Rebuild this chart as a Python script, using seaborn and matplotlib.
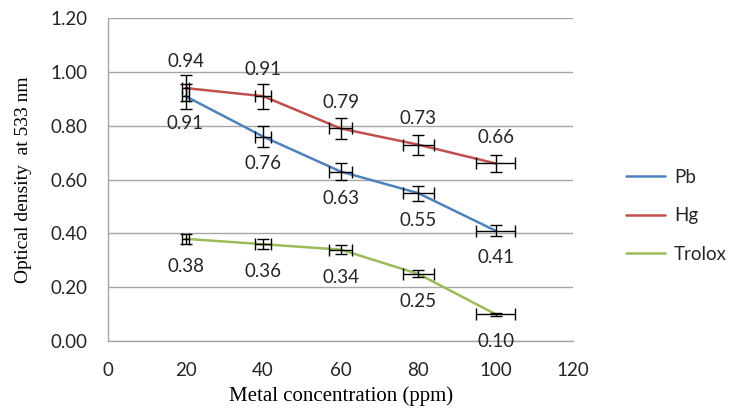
import matplotlib
matplotlib.use("Agg")
import matplotlib.pyplot as plt
import seaborn as sns
import pandas as pd
from matplotlib.lines import Line2D

conc = [20, 40, 60, 80, 100]
pb = [0.91, 0.76, 0.63, 0.55, 0.41]
hg = [0.94, 0.91, 0.79, 0.73, 0.66]
trolox = [0.38, 0.36, 0.34, 0.25, 0.10]
conc_err = [1, 2, 3, 4, 5]
pb_err = [0.046, 0.038, 0.032, 0.028, 0.021]
hg_err = [0.047, 0.046, 0.040, 0.037, 0.033]
trolox_err = [0.019, 0.018, 0.017, 0.013, 0.005]

series = ["Pb", "Hg", "Trolox"]
colors = {"Pb": "#4F81BD", "Hg": "#C0504D", "Trolox": "#9BBB59"}

df = pd.concat([
    pd.DataFrame({"conc": conc, "od": pb, "err": pb_err, "series": "Pb"}),
    pd.DataFrame({"conc": conc, "od": hg, "err": hg_err, "series": "Hg"}),
    pd.DataFrame({"conc": conc, "od": trolox, "err": trolox_err, "series": "Trolox"}),
])

sns.set_theme(style="white")
plt.rcParams['font.family'] = ['Lato', 'DejaVu Sans']

fig = plt.figure(figsize=(7.32, 4.11), dpi=100)
ax = fig.add_axes([0.1475, 0.170, 0.6355, 0.786])

sns.lineplot(data=df, x="conc", y="od", hue="series", palette=colors,
             hue_order=series, linewidth=1.8, ax=ax, legend=False, zorder=3)

for s, vals, errs in [("Pb", pb, pb_err), ("Hg", hg, hg_err), ("Trolox", trolox, trolox_err)]:
    ax.errorbar(conc, vals, xerr=conc_err, yerr=errs, fmt="none", ecolor="black",
                elinewidth=1.0, capsize=4, capthick=1.0, zorder=4)

label_kw = dict(textcoords="offset points", ha="center", va="center",
                fontsize=13.5, color="#262626", zorder=5)
for x, v in zip(conc, hg):
    ax.annotate(f"{v:.2f}", (x, v), xytext=(0, 19), **label_kw)
for x, v in zip(conc, pb):
    ax.annotate(f"{v:.2f}", (x, v), xytext=(0, -19.5), **label_kw)
for x, v in zip(conc, trolox):
    ax.annotate(f"{v:.2f}", (x, v), xytext=(0, -20), **label_kw)

ax.set_xlim(0, 120)
ax.set_ylim(0, 1.2)
ax.set_xticks([0, 20, 40, 60, 80, 100, 120])
ax.set_yticks([0, 0.2, 0.4, 0.6, 0.8, 1.0, 1.2])
ax.set_yticklabels([f"{t:.2f}" for t in [0, 0.2, 0.4, 0.6, 0.8, 1.0, 1.2]])
ax.tick_params(axis="both", length=0, labelsize=13.5, colors="#262626")
ax.tick_params(axis="x", pad=15)
ax.tick_params(axis="y", pad=15)
ax.yaxis.grid(True, color="#A6A6A6", linewidth=1.0)
ax.xaxis.grid(False)
for side in ["top", "right"]:
    ax.spines[side].set_visible(False)
for side in ["left", "bottom"]:
    ax.spines[side].set_color("#A6A6A6")
    ax.spines[side].set_linewidth(1.0)

ax.set_xlabel("Metal concentration (ppm)", fontsize=15, family="Liberation Serif",
              color="black", labelpad=5)
ax.set_ylabel("Optical density  at 533 nm", fontsize=14, family="Liberation Serif",
              color="black", labelpad=13)

handles = [Line2D([0], [0], color=colors[s], linewidth=1.8) for s in series]
fig.legend(handles, series, loc="center left", bbox_to_anchor=(0.845, 0.475),
           frameon=False, fontsize=13.5, handlelength=2.1, labelspacing=1.15,
           handletextpad=0.45, borderaxespad=0)

fig.savefig("out.png", dpi=100)
